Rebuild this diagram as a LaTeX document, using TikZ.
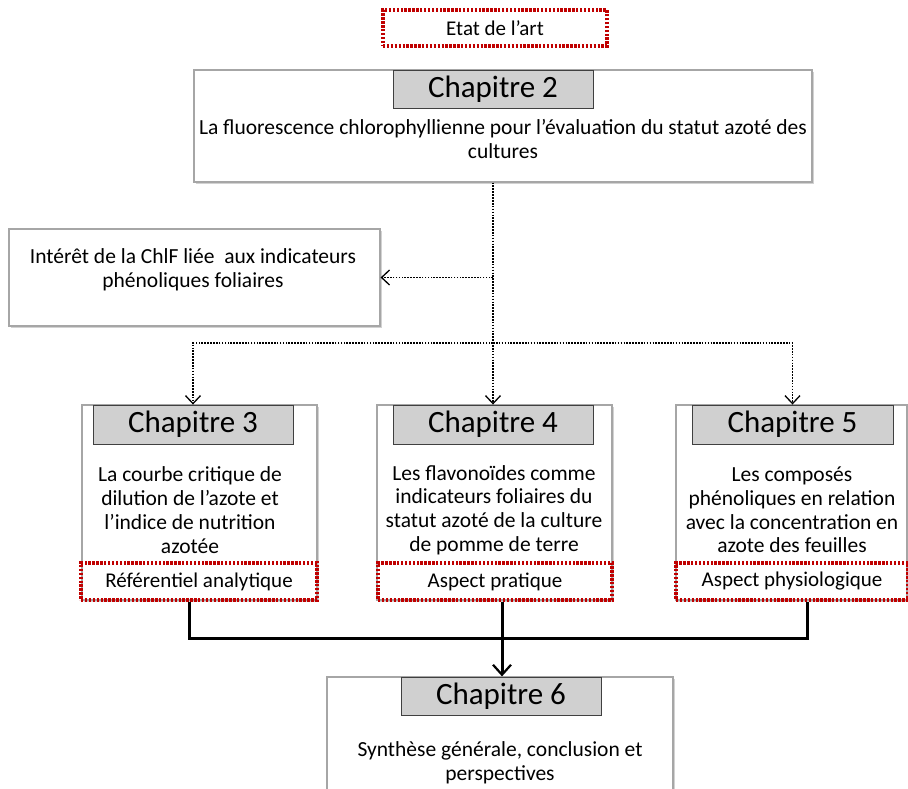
\documentclass[tikz,border=0pt]{standalone}
\usepackage{fontspec}
\setmainfont{Carlito}
\usetikzlibrary{arrows.meta,shadows}
\definecolor{dred}{HTML}{C00000}
\definecolor{lblgray}{HTML}{D0D0D0}
\definecolor{boxgray}{HTML}{A6A6A6}
\tikzset{
 bigbox/.style={draw=boxgray, line width=1.2pt, fill=white, rectangle, inner sep=0pt,
   drop shadow={shadow xshift=2pt,shadow yshift=-2pt,opacity=0.35}},
 lblbox/.style={draw=black!75, line width=0.9pt, fill=lblgray, inner sep=0pt, font=\fontsize{31}{36}\selectfont},
 redbox/.style={draw=dred, line width=3.2pt, dash pattern=on 2.4pt off 1.5pt, inner sep=0pt, font=\fontsize{21}{24}\selectfont},
 txt/.style={align=center, inner sep=0pt, font=\fontsize{21.5}{23.8}\selectfont},
 dotline/.style={line width=1.8pt, dash pattern=on 1.6pt off 1.3pt},
 dotarrow/.style={dotline, -{Straight Barb[length=8pt,width=15pt,line width=1.3pt]}},
 thickline/.style={line width=3pt},
 thickarrow/.style={thickline, -{Straight Barb[length=10pt,width=18pt,line width=2.2pt]}},
}
\begin{document}
\begin{tikzpicture}[x=1pt,y=-1pt]
\useasboundingbox (0,0) rectangle (908,789);
\clip (0,0) rectangle (908,789);
\fill[white] (0,0) rectangle (908,789);

% top
\node[redbox, minimum width=224, minimum height=36] (etat) at (495,28) {Etat de l’art};

% chapter 2
\node[bigbox, minimum width=618, minimum height=112] (ch2) at (503,126) {};
\node[lblbox, minimum width=200, minimum height=38] (l2) at (493,89) {Chapitre 2};
\node[txt] (t2) at (503,139) {La fluorescence chlorophyllienne pour l’évaluation du statut azoté des\\cultures};

% interet
\node[bigbox, minimum width=371, minimum height=97] (int) at (194.5,277.5) {};
\node[txt] (tint) at (193,270) {Intérêt de la ChlF liée\ \ aux indicateurs\\phénoliques foliaires};

% chapter 3
\node[bigbox, minimum width=235, minimum height=195] (ch3) at (199.5,502.5) {};
\node[lblbox, minimum width=200, minimum height=39] (l3) at (193,424.5) {Chapitre 3};
\node[txt] (t3) at (190,510) {La courbe critique de\\dilution de l’azote et\\l’indice de nutrition\\azotée};
\node[redbox, minimum width=236, minimum height=37] (r3) at (199,581.5) {Référentiel analytique};

% chapter 4
\node[bigbox, minimum width=235, minimum height=195] (ch4) at (494.5,502.5) {};
\node[lblbox, minimum width=200, minimum height=39] (l4) at (493,424.5) {Chapitre 4};
\node[txt] (t4) at (494,510) {Les flavonoïdes comme\\indicateurs foliaires du\\statut azoté de la culture\\de pomme de terre};
\node[redbox, minimum width=234, minimum height=37] (r4) at (495,581.5) {Aspect pratique};

% chapter 5
\node[bigbox, minimum width=231, minimum height=195] (ch5) at (791.5,502.5) {};
\node[lblbox, minimum width=201, minimum height=39] (l5) at (792.5,424.5) {Chapitre 5};
\node[txt] (t5) at (792,510) {Les composés\\phénoliques en relation\\avec la concentration en\\azote des feuilles};
\node[redbox, minimum width=232, minimum height=37] (r5) at (792,581.5) {Aspect physiologique};

% chapter 6
\node[bigbox, minimum width=346, minimum height=123] (ch6) at (500,738.5) {};
\node[lblbox, minimum width=200, minimum height=38] (l6) at (501,696) {Chapitre 6};
\node[txt] (t6) at (500,762.5) {Synthèse générale, conclusion et\\perspectives};

% dotted connectors
\coordinate (jh) at (493,343);
\draw[dotarrow] (l2.center |- ch2.south) -- (l4.north);
\draw[dotarrow] (l2.center |- int.east) -- (int.east);
\draw[dotarrow] (jh) -| (l3.north);
\draw[dotarrow] (jh) -| (l5.north);

% thick connectors
\coordinate (b3) at (189,638);
\coordinate (b4) at (502,638);
\coordinate (b5) at (807,638);
\draw[thickline] (b3 |- r3.south) -- (b3) -- (b5) -- (b5 |- r5.south);
\draw[thickarrow] (b4 |- r4.south) -- (b4 |- ch6.north);
\end{tikzpicture}
\end{document}
